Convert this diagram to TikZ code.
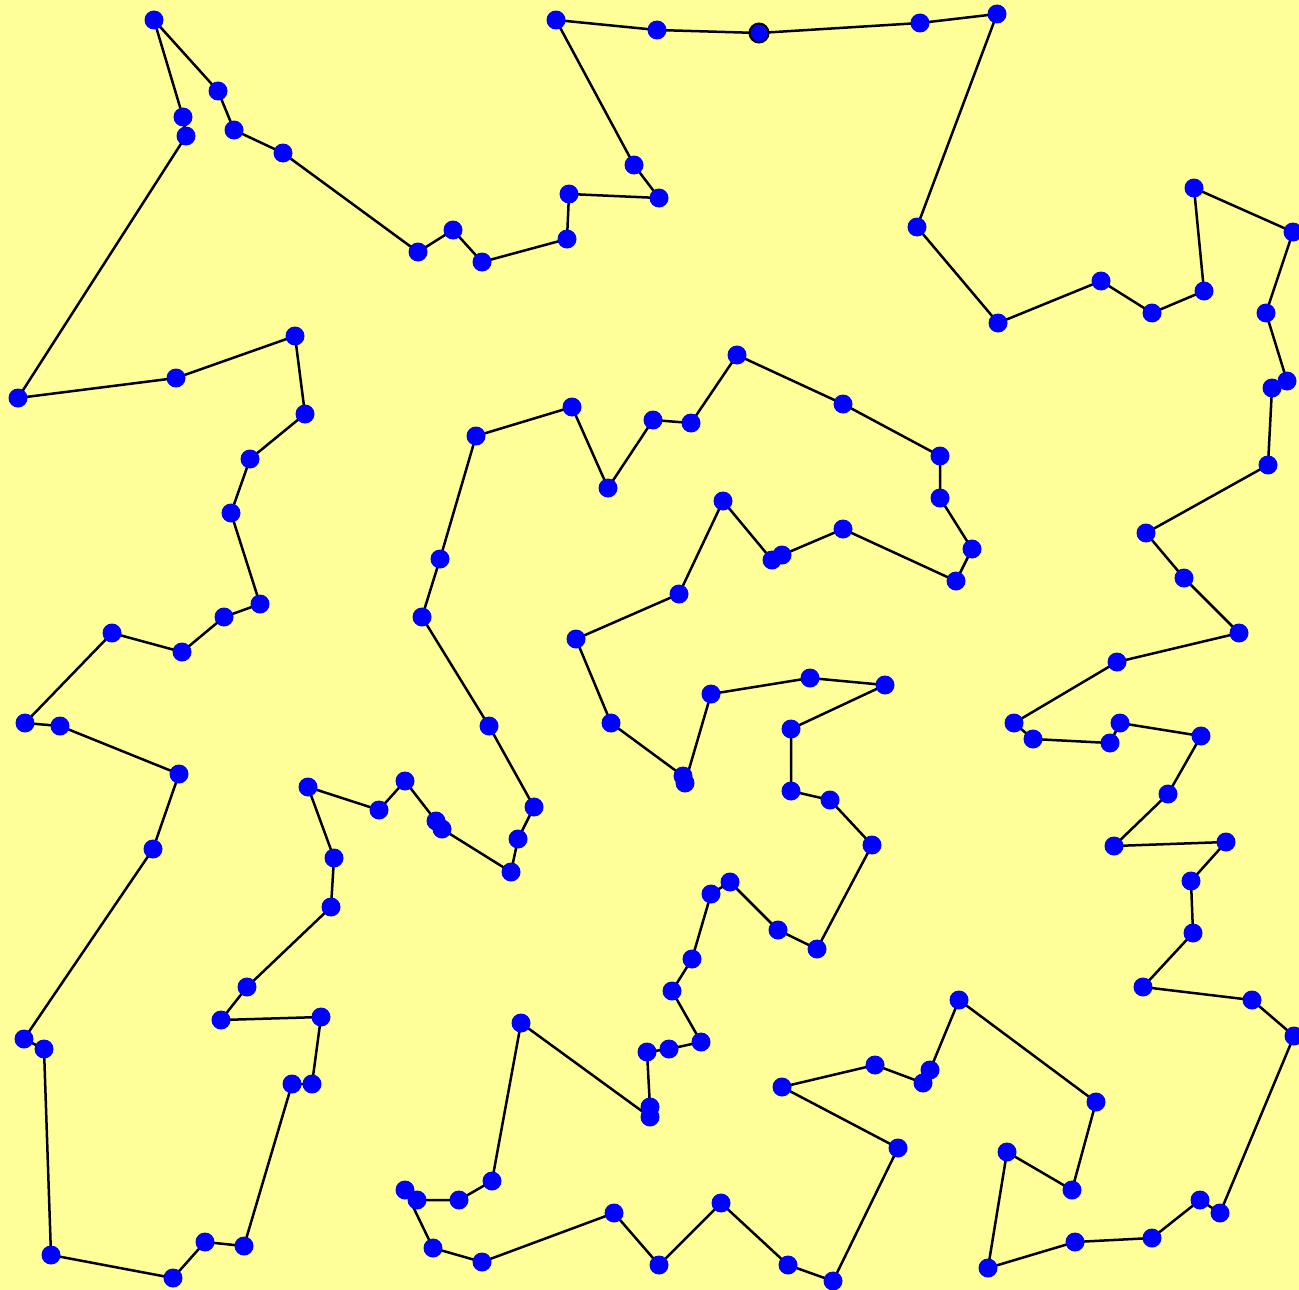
\documentclass[tikz,border=0pt]{standalone}
\definecolor{bgyellow}{HTML}{FFFF99}
\definecolor{dotblue}{HTML}{0000FF}
\pgfdeclarelayer{back}
\pgfdeclarelayer{edges}
\pgfsetlayers{back,edges,main}
\tikzset{
  city/.style={circle,fill=dotblue,inner sep=0pt,minimum size=19pt},
  startcity/.style={city,draw=black,line width=2pt},
  tour/.style={draw=black,line width=2.5pt,line join=round}
}
\begin{document}
\begin{tikzpicture}[x=1pt,y=-1pt]
\useasboundingbox (0,0) rectangle (1299,1290);
\begin{pgfonlayer}{back}
\fill[bgyellow] (0,0) rectangle (1299,1290);
\end{pgfonlayer}
\clip (0,0) rectangle (1299,1290);
\foreach [count=\i] \px/\py in {
154/20,183/117,186/136,18/398,176/378,295/336,305/414,250/459,231/513,260/604,
224/617,182/652,112/633,25/723,60/726,179/774,153/849,24/1039,44/1049,51/1255,
173/1278,205/1242,244/1246,292/1084,312/1084,321/1017,221/1020,247/987,331/907,334/858,
308/787,379/810,405/781,436/821,442/829,511/872,518/839,534/807,489/726,422/617,
440/559,476/436,572/407,608/488,653/420,691/423,737/355,843/404,940/456,940/498,
972/549,956/581,843/529,782/555,772/560,723/501,679/594,576/639,611/723,683/776,
685/783,711/694,810/678,885/685,791/729,791/791,830/800,872/845,817/949,778/930,
730/882,711/894,692/959,672/991,701/1042,669/1049,647/1052,650/1107,650/1117,521/1023,
492/1181,459/1200,417/1200,405/1190,433/1248,482/1262,614/1213,659/1265,721/1203,788/1265,
833/1281,898/1148,782/1087,875/1065,923/1083,930/1070,959/1000,1096/1102,1072/1190,1007/1152,
988/1268,1075/1242,1152/1238,1200/1200,1220/1213,1294/1036,1252/1000,1143/987,1193/933,1191/881,
1226/842,1114/846,1168/794,1201/736,1120/723,1110/743,1033/739,1014/723,1117/662,1239/633,
1184/578,1146/533,1268/465,1272/388,1287/381,1266/313,1293/232,1194/188,1204/291,1152/313,
1101/281,998/323,917/227,997/14,920/23,759/33,657/30,556/20,634/165,659/198,
569/194,567/239,482/262,453/230,418/252,283/153,234/130,218/91}
{
  \ifnum\i=136
    \node[startcity] (p\i) at (\px,\py) {};
  \else
    \node[city] (p\i) at (\px,\py) {};
  \fi
}
\begin{pgfonlayer}{edges}
\draw[tour] (p1.center) \foreach \j in {2,...,148} { -- (p\j.center) } -- cycle;
\end{pgfonlayer}
\end{tikzpicture}
\end{document}
